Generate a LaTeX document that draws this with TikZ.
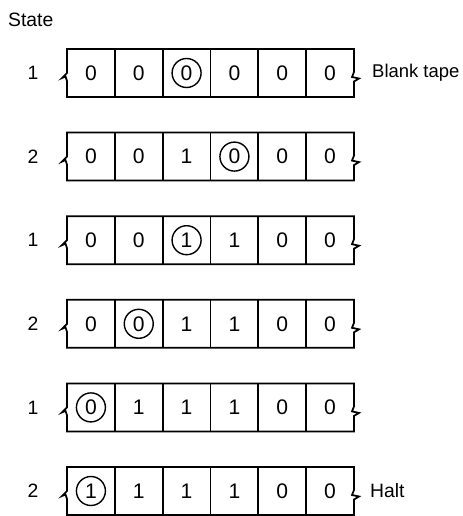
\documentclass[tikz,border=0pt]{standalone}
\usepackage{fontspec}
\setmainfont{Liberation Sans}

\begin{document}
\begin{tikzpicture}[x=1cm, y=1cm,
  tape/.style={line width=1pt, line join=miter},
  cell/.style={font=\fontsize{12}{14}\selectfont, inner sep=0pt},
  head/.style={cell, draw, circle, line width=0.8pt, minimum size=0.58cm},
  lbl/.style={font=\fontsize{11}{13}\selectfont}]
\useasboundingbox (0,0) rectangle (9.26,10.32);
\node[lbl, anchor=west] (title) at (0.04,9.92) {State};
% tape frames with break marks at both ends
\foreach \y in {8.86,7.188,5.516,3.844,2.172,0.5} {
  \draw[tape] (1.34,\y) -- (1.34,\y+0.48) -- (7.08,\y+0.48) -- (7.08,\y+0.02)
    -- (7.04,\y-0.08) -- (7.18,\y-0.11) -- (7.08,\y-0.17) -- (7.08,\y-0.48)
    -- (1.34,\y-0.48) -- (1.34,\y-0.16) -- (1.31,\y-0.07) -- (1.24,\y-0.1) -- cycle;
  \foreach \k in {1,...,5}
    \draw[tape] ({1.34+0.9567*\k},\y-0.48) -- ({1.34+0.9567*\k},\y+0.48);
}
% row 1
\node[lbl] (s1) at (0.66,8.86) {1};
\foreach \v/\s [count=\i] in {0/cell,0/cell,0/head,0/cell,0/cell,0/cell}
  \node[\s] (a\i) at ({1.34+0.9567*(\i-0.5)},8.86) {\v};
\node[lbl, anchor=west, font=\fontsize{10.5}{13}\selectfont] (blank) at (7.32,8.86) {Blank tape};
% row 2
\node[lbl] (s2) at (0.66,7.188) {2};
\foreach \v/\s [count=\i] in {0/cell,0/cell,1/cell,0/head,0/cell,0/cell}
  \node[\s] (b\i) at ({1.34+0.9567*(\i-0.5)},7.188) {\v};
% row 3
\node[lbl] (s3) at (0.66,5.516) {1};
\foreach \v/\s [count=\i] in {0/cell,0/cell,1/head,1/cell,0/cell,0/cell}
  \node[\s] (c\i) at ({1.34+0.9567*(\i-0.5)},5.516) {\v};
% row 4
\node[lbl] (s4) at (0.66,3.844) {2};
\foreach \v/\s [count=\i] in {0/cell,0/head,1/cell,1/cell,0/cell,0/cell}
  \node[\s] (d\i) at ({1.34+0.9567*(\i-0.5)},3.844) {\v};
% row 5
\node[lbl] (s5) at (0.66,2.172) {1};
\foreach \v/\s [count=\i] in {0/head,1/cell,1/cell,1/cell,0/cell,0/cell}
  \node[\s] (e\i) at ({1.34+0.9567*(\i-0.5)},2.172) {\v};
% row 6
\node[lbl] (s6) at (0.66,0.5) {2};
\foreach \v/\s [count=\i] in {1/head,1/cell,1/cell,1/cell,0/cell,0/cell}
  \node[\s] (f\i) at ({1.34+0.9567*(\i-0.5)},0.5) {\v};
\node[lbl, anchor=west] (halt) at (7.28,0.5) {Halt};
\end{tikzpicture}
\end{document}
